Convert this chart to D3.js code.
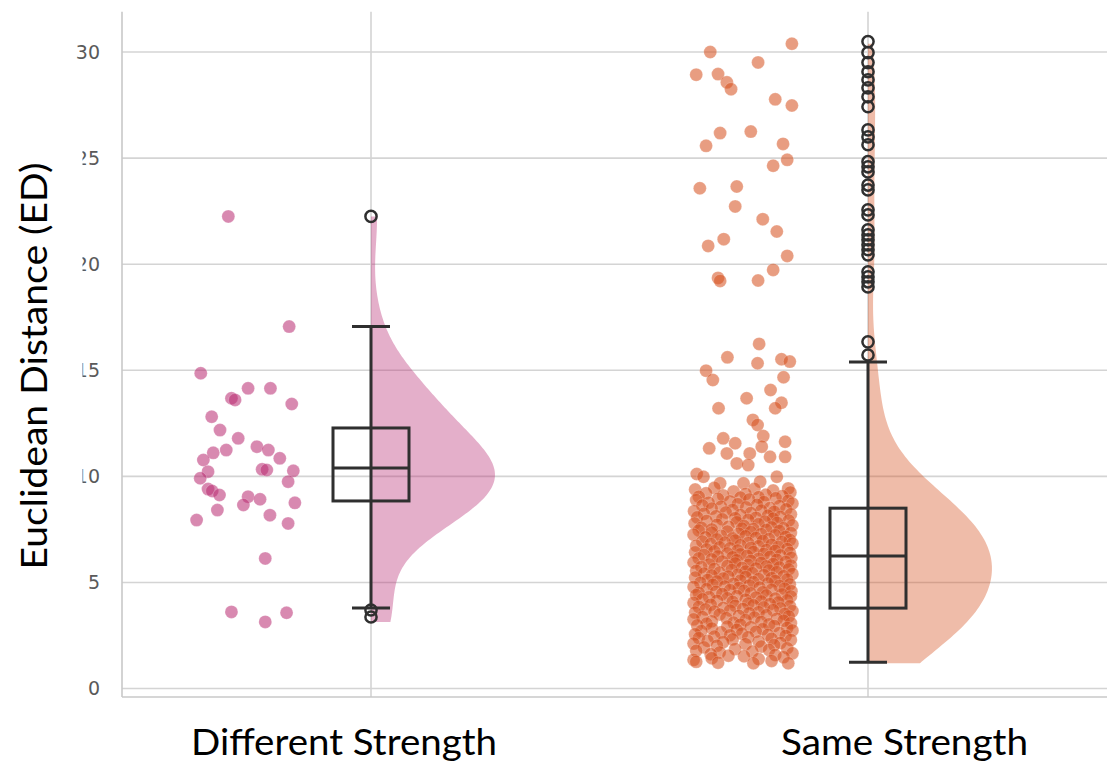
<html>
<script src='https://d3js.org/d3.v7.min.js'></script>
<style>
body {margin: 0; background: white;}
.tick text {font-family: 'DejaVu Sans'; font-size: 19px; fill: #5a5a5a;}
.label {font-family: Lato; font-size: 36px; fill: black;}
</style>
<body>
<svg width=1107 height=764></svg>
<script>

var categories = ['Different Strength', 'Same Strength'];
var yTicks = [0, 5, 10, 15, 20, 25, 30];

// strip points as [value, jitter], jitter runs -1..1 across the strip
var differentPoints = [
  [22.25,-0.34],[17.06,0.83],[14.86,-0.87],[14.15,0.04],[14.15,0.47],[13.68,-0.28],[13.6,-0.21],
  [13.41,0.88],[12.81,-0.66],[12.18,-0.5],[11.79,-0.15],[11.24,-0.38],[11.11,-0.63],[11.4,0.21],
  [11.24,0.43],[10.85,0.65],[10.77,-0.82],[10.33,0.31],[10.3,0.4],[10.22,-0.73],[10.26,0.91],
  [9.91,-0.88],[9.75,0.81],[9.4,-0.73],[9.31,-0.65],[9.12,-0.51],[9.04,0.04],[8.65,-0.05],
  [8.92,0.27],[8.75,0.94],[8.41,-0.55],[8.17,0.46],[7.94,-0.95],[7.78,0.81],[6.13,0.37],
  [3.61,-0.28],[3.14,0.37],[3.57,0.78]
];

var samePoints = [
  // upper tail
  [30.39,0.94],[30.0,-0.63],[29.51,0.29],[28.93,-0.9],[28.96,-0.48],[28.57,-0.31],[28.25,-0.23],
  [27.77,0.62],[27.48,0.94],[26.18,-0.44],[26.25,0.15],[25.58,-0.71],[25.67,0.77],[24.92,0.85],
  [24.64,0.58],[23.58,-0.83],[23.66,-0.12],[22.72,-0.15],[22.12,0.38],[21.54,0.65],[21.18,-0.37],
  [20.86,-0.67],[20.39,0.85],[19.73,0.58],[19.35,-0.48],[19.21,-0.44],[19.23,0.29],
  // 10 - 16
  [16.24,0.31],[15.61,-0.3],[15.33,0.28],[15.52,0.74],[15.41,0.9],[14.98,-0.71],[14.54,-0.58],
  [14.67,0.78],[14.07,0.53],[13.68,0.07],[13.21,-0.47],[13.47,0.74],[13.21,0.62],[12.66,0.19],
  [12.42,0.28],[11.9,0.39],[11.79,-0.38],[11.32,-0.65],[11.56,-0.15],[11.63,0.81],[11.08,-0.31],
  [11.08,0.13],[11.4,0.36],[10.92,0.52],[10.92,0.81],[10.61,-0.12],[10.53,0.1],[10.11,-0.89],
  [9.98,-0.76],[9.67,-0.44],[9.67,0.01],[9.75,0.33],[9.98,0.65],[9.43,0.87],
  // dense part
  [9.46,-0.55],[9.41,0.22],[9.38,-0.92],[9.33,0.58],[9.29,-0.18],[9.24,0.91],[9.2,-0.71],[9.17,0.05],
  [9.13,0.44],[9.1,-0.38],[9.07,0.76],[9.04,-0.85],[9.02,0.3],[9.0,-0.05],
  [8.97,0.63],[8.94,-0.48],[8.91,0.12],[8.88,-0.9],[8.85,0.87],[8.82,-0.25],[8.79,0.4],[8.76,-0.66],
  [8.72,0.95],[8.69,-0.1],[8.66,0.27],[8.63,-0.78],[8.6,0.7],[8.57,-0.42],[8.54,0.06],[8.51,0.52],
  [8.48,-0.6],[8.45,0.83],[8.42,-0.2],[8.39,0.35],[8.36,-0.94],[8.33,0.6],[8.3,-0.33],[8.27,0.15],
  [8.24,-0.75],[8.21,0.92],[8.18,-0.05],[8.15,0.48],[8.12,-0.52],[8.09,0.72],[8.07,-0.88],[8.05,0.25],
  [8.03,-0.15],[8.01,0.58],
  [7.98,-0.4],[7.95,0.1],[7.92,0.88],[7.9,-0.7],[7.87,0.42],[7.84,-0.12],[7.81,0.66],[7.78,-0.93],
  [7.75,0.3],[7.72,-0.5],[7.69,0.95],[7.66,0.02],[7.63,-0.28],[7.6,0.55],[7.58,-0.8],[7.56,0.78],
  [7.54,-0.02],[7.52,0.2],[7.5,-0.6],
  [7.48,0.45],[7.45,-0.85],[7.43,0.7],[7.4,-0.3],[7.38,0.15],[7.35,-0.6],[7.33,0.92],[7.3,-0.08],
  [7.28,0.35],[7.25,-0.95],[7.23,0.62],[7.2,-0.42],[7.18,0.05],[7.15,0.82],[7.13,-0.72],[7.1,0.25],
  [7.08,-0.2],[7.05,0.5],[7.03,-0.5],[7.01,0.9],
  [6.98,-0.15],[6.96,0.38],[6.93,-0.78],[6.91,0.75],[6.88,-0.35],[6.86,0.1],[6.83,0.95],[6.81,-0.62],
  [6.78,0.55],[6.76,-0.05],[6.73,-0.9],[6.71,0.3],[6.68,0.68],[6.66,-0.45],[6.63,0.15],[6.61,-0.25],
  [6.58,0.85],[6.56,-0.7],[6.53,0.45],[6.51,-0.1],
  [6.49,0.62],[6.47,-0.55],[6.44,0.2],[6.42,-0.92],[6.4,0.9],[6.37,-0.3],[6.35,0.4],[6.33,-0.05],
  [6.3,-0.75],[6.28,0.72],[6.26,0.08],[6.23,-0.48],[6.21,0.52],[6.19,-0.2],[6.16,0.93],[6.14,-0.85],
  [6.12,0.3],[6.09,-0.6],[6.07,0.65],[6.05,-0.12],[6.02,0.15],
  [5.99,-0.4],[5.97,0.82],[5.94,-0.95],[5.92,0.35],[5.9,-0.15],[5.87,0.58],[5.85,-0.65],[5.83,0.1],
  [5.8,0.92],[5.78,-0.3],[5.76,0.45],[5.73,-0.8],[5.71,0.7],[5.69,-0.02],[5.66,0.25],[5.64,-0.55],
  [5.62,0.88],[5.59,-0.22],[5.57,0.5],[5.55,-0.9],[5.52,0.05],
  [5.49,0.65],[5.47,-0.45],[5.44,0.18],[5.42,-0.75],[5.4,0.95],[5.37,-0.1],[5.35,0.4],[5.33,-0.6],
  [5.3,0.78],[5.28,-0.28],[5.26,0.05],[5.23,-0.92],[5.21,0.55],[5.19,-0.38],[5.16,0.3],[5.14,0.85],
  [5.12,-0.68],[5.09,-0.05],[5.07,0.62],[5.05,-0.5],[5.02,0.2],
  [4.99,-0.82],[4.96,0.48],[4.94,-0.18],[4.91,0.9],[4.89,-0.58],[4.86,0.12],[4.84,0.7],[4.81,-0.35],
  [4.79,-0.95],[4.76,0.32],[4.74,-0.08],[4.71,0.8],[4.69,-0.7],[4.66,0.55],[4.64,-0.25],[4.61,0.02],
  [4.59,0.93],[4.56,-0.52],[4.54,0.38],[4.51,-0.85],
  [4.49,0.15],[4.46,-0.4],[4.44,0.75],[4.41,-0.9],[4.39,0.45],[4.36,-0.12],[4.34,0.92],[4.31,-0.65],
  [4.29,0.25],[4.26,-0.3],[4.24,0.62],[4.21,-0.78],[4.19,0.05],[4.16,0.85],[4.14,-0.5],[4.11,0.35],
  [4.09,-0.2],[4.06,0.68],[4.04,-0.95],[4.01,0.1],
  [3.98,0.52],[3.95,-0.62],[3.93,0.2],[3.9,-0.15],[3.88,0.9],[3.85,-0.85],[3.83,0.4],[3.8,-0.38],
  [3.78,0.72],[3.75,0.0],[3.73,-0.72],[3.7,0.58],[3.68,-0.25],[3.65,0.95],[3.63,-0.55],[3.6,0.3],
  [3.58,-0.92],[3.55,0.12],[3.52,0.8],
  [3.49,-0.45],[3.46,0.45],[3.43,-0.08],[3.4,0.88],[3.37,-0.78],[3.35,0.22],[3.32,-0.32],[3.29,0.65],
  [3.26,-0.95],[3.23,0.05],[3.2,0.78],[3.17,-0.6],[3.14,0.35],[3.11,-0.18],[3.08,0.92],[3.06,-0.7],
  [3.03,0.5],[3.01,-0.05],
  [2.98,-0.88],[2.95,0.6],[2.92,-0.3],[2.89,0.15],[2.86,0.85],[2.83,-0.6],[2.8,0.38],[2.77,-0.12],
  [2.74,0.95],[2.71,-0.8],[2.68,0.25],[2.65,-0.42],[2.62,0.7],[2.59,-0.02],[2.56,-0.92],[2.53,0.48],
  [2.51,-0.25],
  [2.48,0.82],[2.45,-0.55],[2.42,0.1],[2.38,-0.85],[2.35,0.55],[2.32,-0.2],[2.29,0.92],[2.25,-0.68],
  [2.22,0.3],[2.19,-0.38],[2.15,0.72],[2.12,-0.95],[2.09,0.05],[2.05,0.6],[2.02,-0.5],
  [1.98,0.35],[1.94,-0.75],[1.9,0.85],[1.86,-0.15],[1.82,0.5],[1.78,-0.9],[1.74,0.18],[1.7,-0.45],
  [1.66,0.95],[1.62,-0.62],[1.58,0.62],[1.55,-0.28],[1.52,0.02],
  [1.48,0.78],[1.43,-0.6],[1.39,0.3],[1.35,-0.95],[1.3,0.55],[1.26,-0.9],[1.22,-0.48],[1.19,0.2],
  [1.19,0.87]
];

// box stats: [low whisker, q1, median, q3, high whisker]
var differentBox = [3.79, 8.84, 10.39, 12.28, 17.06];
var sameBox = [1.24, 3.79, 6.24, 8.50, 15.39];

var differentOutliers = [22.25, 3.7, 3.37];
var sameOutliers = [30.49, 29.97, 29.5, 29.07, 28.69, 28.31, 27.89, 27.42, 26.33, 26.0, 25.63,
  24.83, 24.59, 24.35, 23.73, 23.5, 22.56, 22.32, 21.62, 21.38, 21.15, 20.91, 20.68, 20.44,
  19.64, 19.4, 19.17, 18.93, 16.34, 15.72];

var groups = [
  {name: categories[0], points: differentPoints, box: differentBox, outliers: differentOutliers, color: 'rgb(185,45,115)'},
  {name: categories[1], points: samePoints, box: sameBox, outliers: sameOutliers, color: 'rgb(214,80,30)'}
];

var svg = d3.select('svg');
var x = d3.scaleBand().domain(categories).range([122.5, 1116.5]);
var y = d3.scaleLinear().domain([-0.4, 31.9]).range([697, 11.7]);
function cx(name) { return x(name) + x.bandwidth() / 2; }

// grid
svg.append('g')
  .selectAll('line.h')
  .data(yTicks)
  .enter().append('line')
    .attr('x1', 122).attr('x2', 1107)
    .attr('y1', function(d) { return y(d); })
    .attr('y2', function(d) { return y(d); })
    .attr('stroke', '#d4d4d4').attr('stroke-width', 1.6);

svg.append('g')
  .selectAll('line.v')
  .data(categories)
  .enter().append('line')
    .attr('x1', function(d) { return cx(d); })
    .attr('x2', function(d) { return cx(d); })
    .attr('y1', y.range()[1]).attr('y2', y.range()[0])
    .attr('stroke', '#d4d4d4').attr('stroke-width', 1.6);

// spines
svg.append('line').attr('x1', 122).attr('x2', 122).attr('y1', y.range()[1]).attr('y2', y.range()[0])
  .attr('stroke', '#c8c8c8').attr('stroke-width', 1.6);
svg.append('line').attr('x1', 122).attr('x2', 1107).attr('y1', y.range()[0]).attr('y2', y.range()[0])
  .attr('stroke', '#c8c8c8').attr('stroke-width', 1.6);

// tick labels
var yAxis = svg.append('g')
  .attr('transform', 'translate(122,0)')
  .call(d3.axisLeft(y).tickValues(yTicks).tickSize(0).tickPadding(22));
yAxis.select('.domain').remove();

// half violins from a gaussian kde (scott bandwidth), cut at data range
function kde(values) {
  var h = d3.deviation(values) * Math.pow(values.length, -0.2);
  var lo = d3.min(values), hi = d3.max(values);
  return d3.range(0, 121).map(function(i) {
    var v = lo + (hi - lo) * i / 120;
    return [v, d3.sum(values, function(p) { return Math.exp(-0.5 * Math.pow((v - p) / h, 2)); })];
  });
}

var violinWidth = 124, stripOffset = -125, stripHalf = 52;

groups.forEach(function(g) {
  var c = cx(g.name);
  var dens = kde(g.points.map(function(p) { return p[0]; }));
  var w = d3.scaleLinear().domain([0, d3.max(dens, function(d) { return d[1]; })]).range([0, violinWidth]);
  var area = d3.area()
    .x0(c)
    .x1(function(d) { return c + w(d[1]); })
    .y(function(d) { return y(d[0]); })
    .curve(d3.curveBasis);
  svg.append('path').datum(dens)
    .attr('d', area)
    .attr('fill', g.color).attr('fill-opacity', 0.38);

  svg.append('g')
    .selectAll('circle')
    .data(g.points)
    .enter().append('circle')
      .attr('cx', function(d) { return c + stripOffset + d[1] * stripHalf; })
      .attr('cy', function(d) { return y(d[0]); })
      .attr('r', 6.5)
      .attr('fill', g.color).attr('fill-opacity', 0.56)
      .attr('stroke', 'white').attr('stroke-opacity', 0.2).attr('stroke-width', 1);
});

// boxes
groups.forEach(function(g) {
  var c = cx(g.name), b = g.box, bw = 38, cap = 19;
  var box = svg.append('g').attr('stroke', '#2f2f2f').attr('stroke-width', 3).attr('fill', 'none');
  box.append('line').attr('x1', c).attr('x2', c).attr('y1', y(b[0])).attr('y2', y(b[4]));
  box.append('rect').attr('x', c - bw).attr('width', bw * 2)
    .attr('y', y(b[3])).attr('height', y(b[1]) - y(b[3]));
  box.append('line').attr('x1', c - bw).attr('x2', c + bw).attr('y1', y(b[2])).attr('y2', y(b[2]));
  box.append('line').attr('x1', c - cap).attr('x2', c + cap).attr('y1', y(b[0])).attr('y2', y(b[0]));
  box.append('line').attr('x1', c - cap).attr('x2', c + cap).attr('y1', y(b[4])).attr('y2', y(b[4]));
  box.selectAll('circle')
    .data(g.outliers)
    .enter().append('circle')
      .attr('cx', c).attr('cy', function(d) { return y(d); })
      .attr('r', 5.6).attr('stroke-width', 2.5);
});

// axis titles
categories.forEach(function(name, i) {
  var lens = [306, 247], mids = [344, 904.5];
  svg.append('text').attr('class', 'label')
    .attr('x', mids[i]).attr('y', 755)
    .attr('text-anchor', 'middle')
    .attr('textLength', lens[i]).attr('lengthAdjust', 'spacingAndGlyphs')
    .text(name);
});

svg.append('rect').attr('x', 0).attr('y', 110).attr('width', 82.5).attr('height', 520).attr('fill', 'white');
svg.append('text').attr('class', 'label')
  .attr('transform', 'translate(47,366) rotate(-90)')
  .attr('text-anchor', 'middle')
  .attr('textLength', 407).attr('lengthAdjust', 'spacingAndGlyphs')
  .text('Euclidean Distance (ED)');

</script>
</body>
</html>
